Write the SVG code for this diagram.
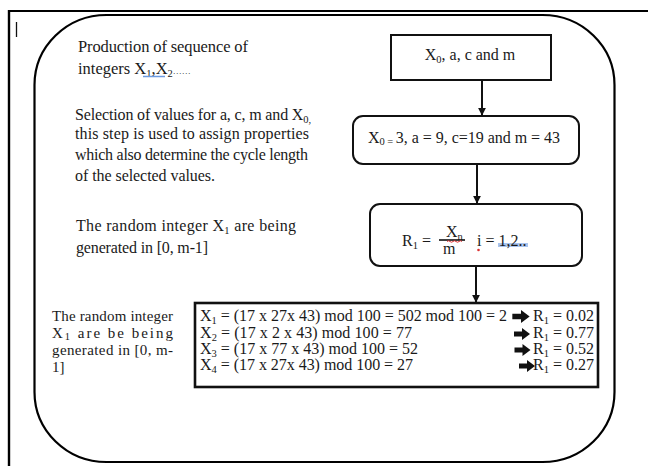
<svg xmlns="http://www.w3.org/2000/svg" width="648" height="466" viewBox="0 0 648 466">
  <defs>
    <style>
      text { font-family: "Liberation Serif", "Times New Roman", serif; font-size: 16px; fill: #1a1a1a; }
      .big { font-size: 16.5px; }
      .small { font-size: 15px; }
      .sb { font-size: 10.5px; }
      .box { fill: #fff; stroke: #111; stroke-width: 2; }
      .frame { fill: none; stroke: #000; stroke-width: 2.2; }
      .conn { stroke: #111; stroke-width: 2; fill: none; }
      .dots { font-size: 9px; }
    </style>
    <marker id="ah" viewBox="0 0 10 10" refX="9" refY="5" markerWidth="4" markerHeight="4" orient="auto" markerUnits="strokeWidth">
      <path d="M0,0 L10,5 L0,10 Z" fill="#111"/>
    </marker>
    <symbol id="fat" viewBox="0 0 16 12" overflow="visible">
      <path d="M0,3.5 H8 V0 L16,6 L8,12 V8.5 H0 Z" fill="#111"/>
    </symbol>
  </defs>

  <!-- page frame lines and cursor -->
  <g id="page">
    <line x1="8" y1="11" x2="648" y2="11" stroke="#000" stroke-width="2"/>
    <line x1="9" y1="10" x2="9" y2="466" stroke="#000" stroke-width="2.4"/>
    <line x1="16.5" y1="22" x2="16.5" y2="37" stroke="#111" stroke-width="1.3"/>
  </g>

  <!-- outer rounded container -->
  <g id="container">
    <rect class="frame" x="34.5" y="15" width="580" height="447" rx="72" ry="70"/>
  </g>

  <!-- explanatory paragraphs on the left -->
  <g id="note-production">
    <text class="big" x="78" y="52" textLength="170" lengthAdjust="spacing">Production of sequence of</text>
    <text class="big" x="78" y="74">integers X<tspan class="sb" dy="3">1</tspan><tspan dy="-3">,X</tspan><tspan class="sb" dy="3">2</tspan><tspan class="dots" dy="-3">……</tspan></text>
    <line x1="143" y1="76.5" x2="165" y2="76.5" stroke="#6d9be0" stroke-width="1.5"/>
  </g>

  <g id="note-selection">
    <text x="75" y="120" textLength="236" lengthAdjust="spacing">Selection of values for a, c, m and X<tspan class="sb" dy="3">0,</tspan></text>
    <text x="75" y="139" textLength="234" lengthAdjust="spacing">this step is used to assign properties</text>
    <text x="75" y="160" textLength="233" lengthAdjust="spacing">which also determine the cycle length</text>
    <text x="75" y="181" textLength="140" lengthAdjust="spacing">of the selected values.</text>
  </g>

  <g id="note-range">
    <text x="76" y="231" textLength="220" lengthAdjust="spacing">The random integer X<tspan class="sb" dy="3">1</tspan><tspan dy="-3"> are being</tspan></text>
    <text x="76" y="253" textLength="132" lengthAdjust="spacing">generated in [0, m-1]</text>
  </g>

  <g id="note-range-2">
    <text class="small" x="52" y="321" textLength="121" lengthAdjust="spacing">The random integer</text>
    <text class="small" x="52" y="338" textLength="121" lengthAdjust="spacing">X<tspan class="sb" dy="2">1</tspan><tspan dy="-2">  are  be  being</tspan></text>
    <text class="small" x="52" y="355" textLength="121" lengthAdjust="spacing">generated in [0, m-</text>
    <text class="small" x="52" y="372">1]</text>
  </g>

  <!-- flow nodes -->
  <g id="node-inputs">
    <rect class="box" x="391" y="35" width="160" height="45"/>
    <text x="470" y="60" text-anchor="middle">X<tspan class="sb" dy="3">0</tspan><tspan dy="-3">, a, c and m</tspan></text>
  </g>

  <g id="node-values">
    <rect class="box" x="353" y="116" width="226" height="48" rx="10"/>
    <text x="368" y="143" textLength="192" lengthAdjust="spacing">X<tspan class="sb" dy="2">0 = </tspan><tspan dy="-2">3, a = 9, c=19 and m = 43</tspan></text>
  </g>

  <g id="node-formula">
    <rect class="box" x="370" y="204" width="212" height="62" rx="10"/>
    <text x="402" y="246">R<tspan class="sb" dy="3">1</tspan><tspan dy="-3"> =</tspan></text>
    <text x="446" y="237">X<tspan class="sb" dy="3">n</tspan></text>
    <line x1="439" y1="240" x2="465" y2="240" stroke="#111" stroke-width="1.6"/>
    <path d="M447,241.5 q1.5,-1.5 3,0 t3,0 t3,0 t3,0 t3,0" fill="none" stroke="#d33" stroke-width="1"/>
    <text x="443" y="254">m</text>
    <rect x="498" y="243" width="30" height="4" fill="#a9c4ee"/>
    <text x="477" y="246">i = 1,2..</text>
    <circle cx="478.5" cy="250" r="1.3" fill="#d33"/>
  </g>

  <g id="node-results">
    <rect x="195" y="303" width="403" height="84" fill="#fff" stroke="#111" stroke-width="2.6"/>
    <text x="200" y="321" textLength="307" lengthAdjust="spacing">X<tspan class="sb" dy="3">1</tspan><tspan dy="-3"> = (17 x 27x 43) mod 100 = 502 mod 100 = 2</tspan></text>
    <text x="200" y="338" textLength="212" lengthAdjust="spacing">X<tspan class="sb" dy="3">2</tspan><tspan dy="-3"> = (17 x 2 x 43) mod 100 = 77</tspan></text>
    <text x="200" y="354" textLength="218" lengthAdjust="spacing">X<tspan class="sb" dy="3">3</tspan><tspan dy="-3"> = (17 x 77 x 43) mod 100 = 52</tspan></text>
    <text x="200" y="370" textLength="213" lengthAdjust="spacing">X<tspan class="sb" dy="3">4</tspan><tspan dy="-3"> = (17 x 27x 43) mod 100 = 27</tspan></text>

    <use href="#fat" x="512" y="310" width="18" height="13"/>
    <use href="#fat" x="514" y="328" width="16" height="12"/>
    <use href="#fat" x="514" y="344" width="17" height="12"/>
    <use href="#fat" x="519" y="360" width="16" height="12"/>

    <text x="594" y="321" text-anchor="end">R<tspan class="sb" dy="3">1</tspan><tspan dy="-3"> = 0.02</tspan></text>
    <text x="594" y="338" text-anchor="end">R<tspan class="sb" dy="3">1</tspan><tspan dy="-3"> = 0.77</tspan></text>
    <text x="594" y="354" text-anchor="end">R<tspan class="sb" dy="3">1</tspan><tspan dy="-3"> = 0.52</tspan></text>
    <text x="594" y="370" text-anchor="end">R<tspan class="sb" dy="3">1</tspan><tspan dy="-3"> = 0.27</tspan></text>
  </g>

  <!-- connectors -->
  <g id="connectors">
    <line class="conn" x1="482" y1="80" x2="482" y2="115" marker-end="url(#ah)"/>
    <line class="conn" x1="477" y1="164" x2="477" y2="203" marker-end="url(#ah)"/>
    <line class="conn" x1="476" y1="266" x2="476" y2="302" marker-end="url(#ah)"/>
  </g>
</svg>
